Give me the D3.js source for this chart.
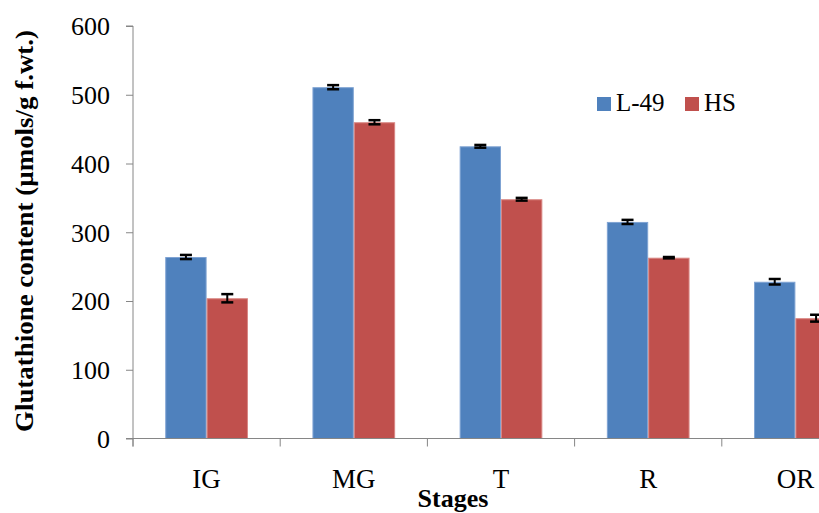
<!DOCTYPE html>
<html><head><meta charset="utf-8">
<script src="https://cdn.jsdelivr.net/npm/d3@7"></script>
<style>body{margin:0;background:#fff;}svg{display:block;} svg text{font-family:"Liberation Serif","Times New Roman","DejaVu Serif",serif;}</style>
</head><body>
<svg id="c" width="819" height="513"></svg>
<script>
const categories = ["IG","MG","T","R","OR"];
const seriesNames = ["L-49","HS"];
const l49 = [264, 511, 425, 315, 228];
const hs = [204, 460, 348, 263, 175];
const l49Err = [3, 3, 2, 3, 4];
const hsErr = [6, 3, 2, 1, 5];
const yTicks = [0,100,200,300,400,500,600];
const colors = ["#4F81BD","#C0504D"];
const edgeColors = ["#7FA3D3","#D98683"];

const FONT = "Liberation Serif, Times New Roman, DejaVu Serif, serif";
const svg = d3.select("#c");
const x0 = 133, plotW = 736, yTop = 26, yBot = 438.5;
const x = d3.scaleBand().domain(categories).range([x0, x0 + plotW]).paddingInner(0).paddingOuter(0);
const y = d3.scaleLinear().domain([0,600]).range([yBot, yTop]);
const inner = d3.scaleBand().domain(seriesNames).range([0, x.bandwidth()]).paddingInner(0).paddingOuter(0.78);

const data = categories.map((c,i)=>({c, vals:[{s:"L-49",v:l49[i],e:l49Err[i]},{s:"HS",v:hs[i],e:hsErr[i]}]}));

const g = svg.append("g");
const groups = g.selectAll("g.cat").data(data).join("g").attr("transform", d=>`translate(${x(d.c)},0)`);
groups.selectAll("rect").data(d=>d.vals).join("rect")
  .attr("x", d=>inner(d.s)+0.5).attr("width", inner.bandwidth()-1)
  .attr("y", d=>y(d.v)+0.5).attr("height", d=>y(0)-y(d.v)-0.5)
  .attr("fill", (d,i)=>colors[i]).attr("stroke",(d,i)=>edgeColors[i]).attr("stroke-width",1);
// error bars
groups.selectAll("g.err").data(d=>d.vals).join("g").each(function(d){
  const gg = d3.select(this);
  const cx = inner(d.s) + inner.bandwidth()/2;
  const cap = 6;
  gg.append("line").attr("x1",cx).attr("x2",cx).attr("y1",y(d.v+d.e)).attr("y2",y(d.v-d.e)).attr("stroke","#000").attr("stroke-width",2);
  [d.v+d.e, d.v-d.e].forEach(v=>gg.append("line").attr("x1",cx-cap).attr("x2",cx+cap).attr("y1",y(v)).attr("y2",y(v)).attr("stroke","#000").attr("stroke-width",2.5));
});

// y axis
const yAxis = d3.axisLeft(y).tickValues(yTicks).tickSize(7).tickPadding(16).tickFormat(d3.format("d"));
const ya = svg.append("g").attr("transform",`translate(${x0},0)`).call(yAxis).attr("font-family",FONT);
ya.select(".domain").attr("stroke","#868686").attr("d",`M-7,${yTop}H0V${yBot+8}`);
ya.selectAll(".tick line").attr("stroke","#868686");
ya.selectAll(".tick text").attr("font-size",26).attr("fill","#000").attr("font-family",FONT).attr("dy","0.34em");

// x axis
const xAxis = d3.axisBottom(x).tickSize(0).tickPadding(0);
const xa = svg.append("g").attr("transform",`translate(0,${yBot})`).call(xAxis).attr("font-family",FONT);
xa.select(".domain").attr("stroke","#868686").attr("d",`M${x0-7},0H${x0+plotW}`);
xa.selectAll(".tick text").attr("font-size",27).attr("fill","#000").attr("font-family",FONT).attr("dy",null).attr("y",49);
// boundary ticks
const bounds = categories.map(c=>x(c)).concat([x0+plotW]);
xa.selectAll("line.bt").data(bounds).join("line").attr("class","bt")
  .attr("x1",d=>d).attr("x2",d=>d).attr("y1",0).attr("y2",8).attr("stroke","#868686");

// axis titles
svg.append("text").attr("transform",`translate(33,${(30+432)/2}) rotate(-90)`)
  .attr("text-anchor","middle").attr("font-weight","bold").attr("font-size",26).attr("font-family",FONT)
  .attr("textLength",402).attr("lengthAdjust","spacingAndGlyphs")
  .text("Glutathione content (µmols/g f.wt.)");
svg.append("text").attr("x",453).attr("y",507).attr("text-anchor","middle").attr("font-weight","bold").attr("font-size",26).attr("font-family",FONT).text("Stages");

// legend
const leg = svg.append("g");
const legX = [597, 685];
seriesNames.forEach((s,i)=>{
  leg.append("rect").attr("x",legX[i]).attr("y",97).attr("width",14).attr("height",14).attr("fill",colors[i]);
  leg.append("text").attr("x",legX[i]+19).attr("y",111).attr("font-size",25).attr("font-family",FONT).text(s);
});
</script>
</body></html>
